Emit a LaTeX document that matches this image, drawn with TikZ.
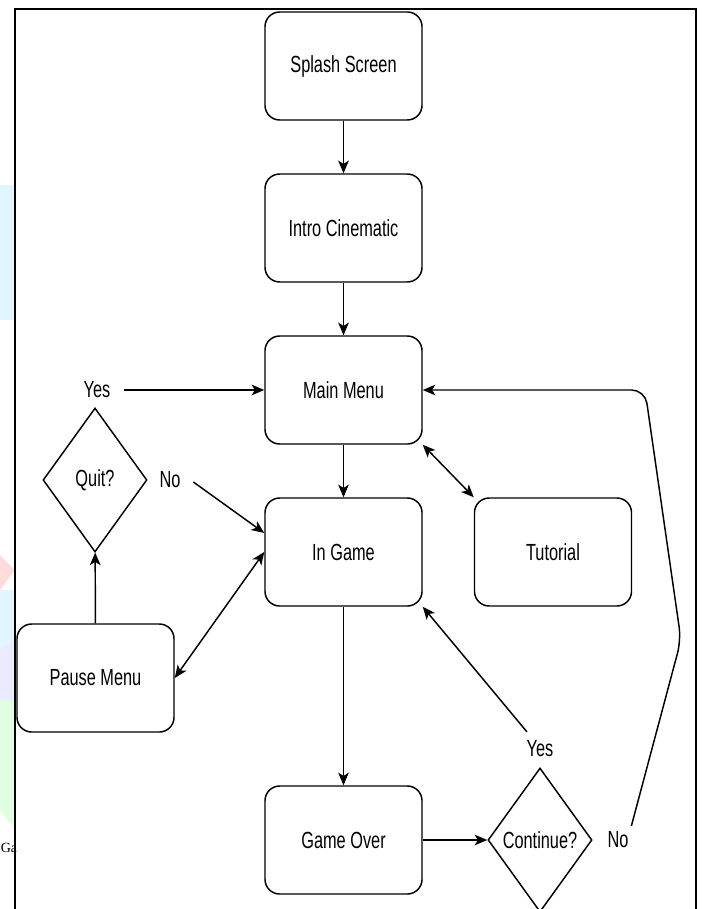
\documentclass[tikz,border=0pt]{standalone}
\usepackage{fontspec}
\setmainfont{Liberation Sans}[FakeStretch=0.7]
\newfontfamily\gafont{Liberation Serif}
\usetikzlibrary{shapes.geometric,arrows.meta,calc}

\tikzset{
    box/.style={draw, rounded corners=11pt, line width=1.1pt, minimum width=117.75pt, minimum height=81pt, fill=white},
    decision/.style={draw, diamond, line width=1.1pt, minimum width=78pt, minimum height=108pt, inner sep=0pt, fill=white},
    answer/.style={inner sep=2pt},
    arr/.style={-{Stealth[length=9.5pt,width=8pt,inset=2.5pt]}, line width=1.1pt},
    biarr/.style={{Stealth[length=9.5pt,width=8pt,inset=2.5pt]}-{Stealth[length=9.5pt,width=8pt,inset=2.5pt]}, line width=1.1pt},
    frame/.style={line width=1.6pt}
}

\begin{document}
\begin{tikzpicture}[x=0.75pt, y=-0.75pt, font=\fontsize{17.5}{20}\selectfont]
    \useasboundingbox (0,0) rectangle (701,909);

    % faint marks left of the frame
    \fill[cyan!12] (0,185) rectangle (15,320);
    \fill[red!14] (0,555) -- (15,570) -- (0,590) -- cycle;
    \fill[cyan!12] (0,590) rectangle (15,700);
    \fill[blue!8] (0,650) -- (15,640) -- (15,700) -- (0,700) -- cycle;
    \fill[green!12] (0,700) -- (15,700) -- (15,830) -- (0,810) -- cycle;
    \node[anchor=west, inner sep=0pt, font=\gafont\fontsize{10.5}{12}\selectfont] (ga) at (0.5,848) {Ga};

    % frame
    \draw[frame] (15,909) -- (15,9) -- (696,9) -- (696,909);

    % screens
    \node[box] (splash)   at (343.5,66)  {Splash Screen};
    \node[box] (intro)    at (343.5,228) {Intro Cinematic};
    \node[box] (mainmenu) at (343.5,390) {Main Menu};
    \node[box] (ingame)   at (343.5,552) {In Game};
    \node[box] (tutorial) at (553,552)   {Tutorial};
    \node[box] (pause)    at (95.5,678)  {Pause Menu};
    \node[box] (gameover) at (343.5,840) {Game Over};

    % decisions
    \node[decision] (quit)     at (95,480)  {Quit?};
    \node[decision] (continue) at (540,840) {Continue?};

    % answers
    \node[answer] (quityes)  at (97,390)  {Yes};
    \node[answer] (quitno)   at (170,480) {No};
    \node[answer] (contyes)  at (540,749) {Yes};
    \node[answer] (contno)   at (618,840) {No};

    \coordinate (nolow) at (681,640);
    \coordinate (notop) at (645,390);

    % flow
    \draw[arr] (splash) -- (intro);
    \draw[arr] (intro) -- (mainmenu);
    \draw[arr] (mainmenu) -- (ingame);
    \draw[arr] (ingame) -- (gameover);
    \draw[arr] (gameover) -- (continue);
    \draw[arr] (pause) -- (quit);
    \draw[biarr] (mainmenu.south east) -- (tutorial.north west);
    \draw[biarr] (pause.east) -- (ingame.west);
    \draw[arr] ($(quityes.east)+(11,0)$) -- (mainmenu.west);
    \draw[arr] ($(quitno.east)+(10,2)$) -- ($(ingame.west)+(0,-19)$);
    \draw[arr] ($(contyes.north)+(-13,-6)$) -- (ingame.south east);
    \draw[arr, rounded corners=10pt] ($(contno.north east)+(0,-3)$) -- (nolow) -- (notop) -- (mainmenu.east);
\end{tikzpicture}
\end{document}
